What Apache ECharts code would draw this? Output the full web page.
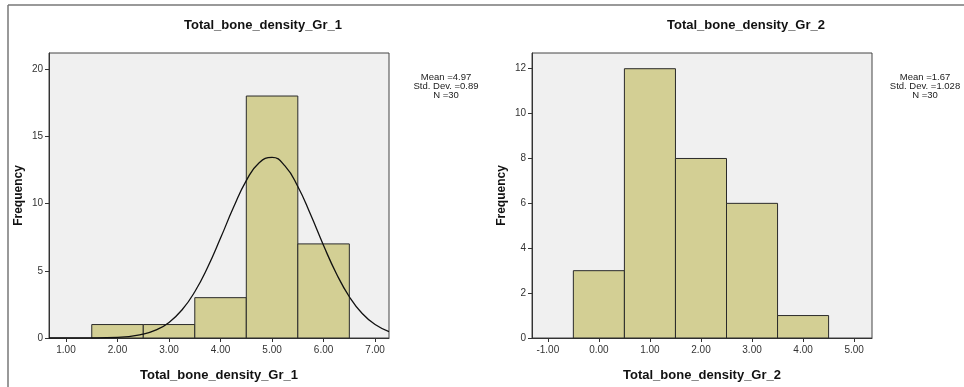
<!DOCTYPE html>
<html>
<head>
<meta charset="utf-8">
<script src="https://cdn.jsdelivr.net/npm/echarts@6/dist/echarts.min.js"></script>
<style>
    html, body { margin: 0; padding: 0; background: #fff; }
    #chart { width: 964px; height: 387px; }
</style>
</head>
<body>
<div id="chart"></div>
<script>
// group 1 histogram
const binStart1 = [1.5, 2.5, 3.5, 4.5, 5.5];
const binEnd1 = [2.5, 3.5, 4.5, 5.5, 6.5];
const counts1 = [1, 1, 3, 18, 7];
// fitted curve
const curveX1 = [0.67, 1.5, 2.0, 2.5, 2.75, 3.0, 3.25, 3.5, 3.75, 4.0, 4.25, 4.5, 4.75, 5.0, 5.25, 5.5, 5.75, 6.0, 6.25, 6.5, 6.75, 7.0, 7.27];
const curveY1 = [0.0, 0.01, 0.05, 0.29, 0.6, 1.16, 2.08, 3.44, 5.26, 7.43, 9.7, 11.71, 13.04, 13.44, 12.8, 11.27, 9.16, 6.88, 4.78, 3.07, 1.82, 1.0, 0.48];
const xTicks1 = [1, 2, 3, 4, 5, 6, 7];
const yTicks1 = [0, 5, 10, 15, 20];
const stats1 = ['Mean =4.97', 'Std. Dev. =0.89', 'N =30'];

// group 2 histogram
const binStart2 = [-0.5, 0.5, 1.5, 2.5, 3.5];
const binEnd2 = [0.5, 1.5, 2.5, 3.5, 4.5];
const counts2 = [3, 12, 8, 6, 1];
const xTicks2 = [-1, 0, 1, 2, 3, 4, 5];
const yTicks2 = [0, 2, 4, 6, 8, 10, 12];
const stats2 = ['Mean =1.67', 'Std. Dev. =1.028', 'N =30'];

const barColor = '#d3cf94';
const font = 'Liberation Sans, Arial, sans-serif';

const histData = (s, e, c) => s.map((v, i) => [v, e[i], c[i]]);

const renderBin = (params, api) => {
    let p0 = api.coord([api.value(0), api.value(2)]);
    let p1 = api.coord([api.value(1), 0]);
    return {
        type: 'rect',
        shape: { x: p0[0], y: p0[1], width: p1[0] - p0[0], height: p1[1] - p0[1] },
        style: { fill: barColor, stroke: '#2a2a2a', lineWidth: 1 }
    };
};

const xAxisFor = (idx, min, max, ticks, name) => ({
    type: 'value',
    gridIndex: idx,
    min: min,
    max: max,
    name: name,
    nameLocation: 'middle',
    nameGap: 31,
    nameTextStyle: { fontFamily: font, fontWeight: 'bold', fontSize: 13, color: '#111' },
    axisLine: { show: true, onZero: false, lineStyle: { color: '#333', width: 1 } },
    axisTick: { show: true, length: 4, customValues: ticks, lineStyle: { color: '#333' } },
    axisLabel: {
        customValues: ticks,
        fontFamily: font, fontSize: 10, color: '#333', margin: 7,
        formatter: v => v.toFixed(2)
    },
    splitLine: { show: false }
});

const yAxisFor = (idx, max, ticks) => ({
    type: 'value',
    gridIndex: idx,
    min: 0,
    max: max,
    name: 'Frequency',
    nameLocation: 'middle',
    nameGap: 24,
    nameTextStyle: { fontFamily: font, fontWeight: 'bold', fontSize: 12, color: '#111' },
    axisLine: { show: true, onZero: false, lineStyle: { color: '#333', width: 1 } },
    axisTick: { show: true, length: 4, customValues: ticks, lineStyle: { color: '#333' } },
    axisLabel: { customValues: ticks, fontFamily: font, fontSize: 10, color: '#333', margin: 6 },
    splitLine: { show: false }
});

const statsText = (cx, lines) => ({
    type: 'text',
    x: cx,
    y: 73,
    style: {
        text: lines.join('\n'),
        align: 'center',
        verticalAlign: 'top',
        fontFamily: font,
        fontSize: 9.5,
        lineHeight: 9,
        fill: '#222'
    }
});

let chart = echarts.init(document.getElementById('chart'));

let option = {
    animation: false,
    backgroundColor: '#fff',
    title: [
        {
            text: 'Total_bone_density_Gr_1',
            left: 258, top: 14, textAlign: 'center',
            textStyle: { fontFamily: font, fontSize: 13, fontWeight: 'bold', color: '#111' }
        },
        {
            text: 'Total_bone_density_Gr_2',
            left: 741, top: 14, textAlign: 'center',
            textStyle: { fontFamily: font, fontSize: 13, fontWeight: 'bold', color: '#111' }
        }
    ],
    grid: [
        { left: 49, top: 53, width: 340, height: 289, show: true, backgroundColor: '#f0f0f0', borderColor: '#444', borderWidth: 1 },
        { left: 532, top: 53, width: 340, height: 289, show: true, backgroundColor: '#f0f0f0', borderColor: '#444', borderWidth: 1 }
    ],
    xAxis: [
        xAxisFor(0, 0.67, 7.27, xTicks1, 'Total_bone_density_Gr_1'),
        xAxisFor(1, -1.31, 5.35, xTicks2, 'Total_bone_density_Gr_2')
    ],
    yAxis: [
        yAxisFor(0, 21.2, yTicks1),
        yAxisFor(1, 12.7, yTicks2)
    ],
    graphic: [
        { type: 'line', shape: { x1: 8, y1: 5, x2: 964, y2: 5 }, style: { stroke: '#777', lineWidth: 1.5 } },
        { type: 'line', shape: { x1: 8, y1: 5, x2: 8, y2: 387 }, style: { stroke: '#777', lineWidth: 1.5 } },
        statsText(446, stats1),
        statsText(925, stats2)
    ],
    series: [
        {
            type: 'custom',
            xAxisIndex: 0, yAxisIndex: 0,
            renderItem: renderBin,
            encode: { x: [0, 1], y: 2 },
            data: histData(binStart1, binEnd1, counts1)
        },
        {
            type: 'line',
            xAxisIndex: 0, yAxisIndex: 0,
            smooth: true,
            showSymbol: false,
            lineStyle: { color: '#111', width: 1.3 },
            data: curveX1.map((x, i) => [x, curveY1[i]]),
            z: 5
        },
        {
            type: 'custom',
            xAxisIndex: 1, yAxisIndex: 1,
            renderItem: renderBin,
            encode: { x: [0, 1], y: 2 },
            data: histData(binStart2, binEnd2, counts2)
        }
    ]
};

chart.setOption(option);
window.addEventListener('resize', chart.resize);
</script>
</body>
</html>
